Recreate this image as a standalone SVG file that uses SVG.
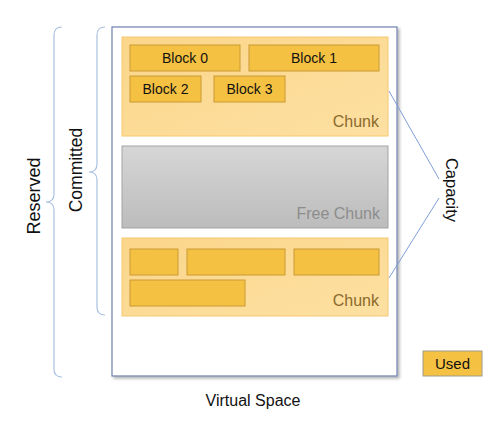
<svg xmlns="http://www.w3.org/2000/svg" width="500" height="425" viewBox="0 0 500 425">
<defs>
<linearGradient id="gFree" x1="0" y1="0" x2="0" y2="1">
<stop offset="0" stop-color="#d6d6d6"/><stop offset="1" stop-color="#bcbcbc"/>
</linearGradient>
<linearGradient id="gChunk" x1="0" y1="0" x2="1" y2="1">
<stop offset="0" stop-color="#fbd68a"/><stop offset="1" stop-color="#fde0a2"/>
</linearGradient>
<filter id="sh" x="-5%" y="-5%" width="110%" height="110%">
<feDropShadow dx="2" dy="2" stdDeviation="1.5" flood-color="#000" flood-opacity="0.3"/>
</filter>
</defs>
<style>
text{font-family:"Liberation Sans",Arial,sans-serif}
.chunk{fill:url(#gChunk);stroke:#f6c870;stroke-width:1}
.blk{fill:#f5c142;stroke:#c99a35;stroke-width:1}
.bt{font-size:14px;fill:#111;text-anchor:middle}
.ct{font-size:16px;fill:#8a6a2c;text-anchor:end}
.brace{fill:none;stroke:#a9c1e2;stroke-width:1.2}
.lbl{font-size:17px;fill:#111;text-anchor:middle}
.cap{stroke:#7f9fd8;stroke-width:1;fill:none}
</style>
<g id="virtual-space">
<rect x="112" y="27" width="285" height="349" fill="#fff" stroke="#7080b0" stroke-width="1.2" filter="url(#sh)"/>
<text class="lbl" x="253" y="406" style="font-size:16px">Virtual Space</text>
</g>
<g id="chunk1">
<rect class="chunk" x="122" y="37" width="266" height="99"/>
<text class="ct" x="379" y="127">Chunk</text>
</g>
<g id="block0"><rect class="blk" x="130" y="45" width="110" height="26"/><text class="bt" x="185" y="63">Block 0</text></g>
<g id="block1"><rect class="blk" x="249" y="45" width="130" height="26"/><text class="bt" x="314" y="63">Block 1</text></g>
<g id="block2"><rect class="blk" x="130" y="76" width="71" height="26"/><text class="bt" x="165.5" y="94">Block 2</text></g>
<g id="block3"><rect class="blk" x="214" y="76" width="71" height="26"/><text class="bt" x="249.5" y="94">Block 3</text></g>
<g id="free-chunk">
<rect x="122" y="146" width="266" height="82" fill="url(#gFree)" stroke="#a3a3a3" stroke-width="1"/>
<text x="380" y="219" style="font-size:16px;fill:#8d8d8d;text-anchor:end">Free Chunk</text>
</g>
<g id="chunk2">
<rect class="chunk" x="122" y="238" width="266" height="78"/>
<text class="ct" x="379" y="306">Chunk</text>
<rect class="blk" x="130" y="249" width="48" height="26"/>
<rect class="blk" x="187" y="249" width="98" height="26"/>
<rect class="blk" x="294" y="249" width="85" height="26"/>
<rect class="blk" x="130" y="280" width="115" height="26"/>
</g>
<g id="legend-used">
<rect x="423" y="351" width="59" height="25" fill="#f5c142" stroke="#a09a8a" stroke-width="1"/>
<text class="bt" x="452.5" y="369" style="font-size:15px">Used</text>
</g>
<g id="connectors">
<path class="brace" d="M62 27 Q54 27 54 35 L54 194 Q54 202 46 202 Q54 202 54 210 L54 369 Q54 377 62 377"/>
<path class="brace" d="M105 27 Q97 27 97 35 L97 164 Q97 172 89 172 Q97 172 97 180 L97 307 Q97 315 105 315"/>
<line class="cap" x1="389" y1="91" x2="439" y2="179"/>
<line class="cap" x1="439" y1="198" x2="389" y2="278"/>
</g>
<g id="labels">
<text class="lbl" transform="translate(40 196) rotate(-90)" style="font-size:18px">Reserved</text>
<text class="lbl" transform="translate(82 170) rotate(-90)" style="font-size:17.5px">Committed</text>
<text class="lbl" transform="translate(446 190) rotate(90)" style="font-size:16.5px">Capacity</text>
</g>
</svg>
